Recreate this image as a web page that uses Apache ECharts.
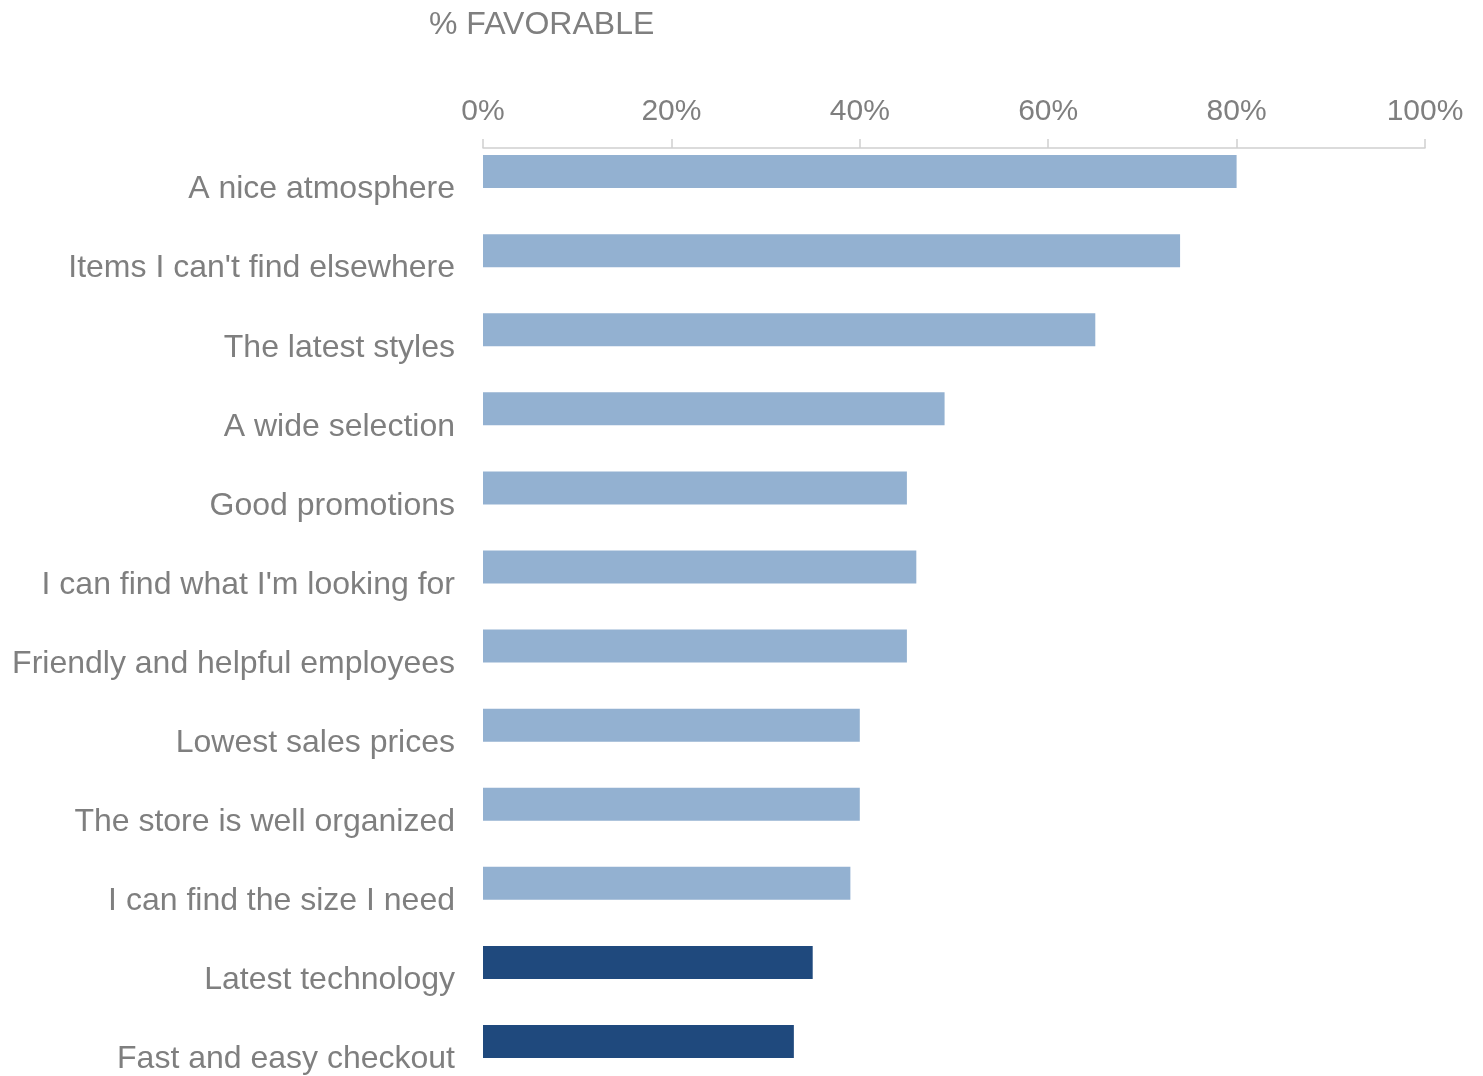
<!DOCTYPE html>
<html>
<head>
<meta charset="utf-8">
<script src="https://cdn.jsdelivr.net/npm/echarts@6/dist/echarts.min.js"></script>
<style>
  html, body { margin: 0; padding: 0; background: #ffffff; }
  #chart { width: 1483px; height: 1076px; }
</style>
</head>
<body>
<div id="chart"></div>
<script>
// Store attributes rated by shoppers, top to bottom
const categories = [
  "A nice atmosphere",
  "Items I can't find elsewhere",
  "The latest styles",
  "A wide selection",
  "Good promotions",
  "I can find what I'm looking for",
  "Friendly and helpful employees",
  "Lowest sales prices",
  "The store is well organized",
  "I can find the size I need",
  "Latest technology",
  "Fast and easy checkout"
];

// Share of respondents rating each attribute favorably (%)
const favorable = [80, 74, 65, 49, 45, 46, 45, 40, 40, 39, 35, 33];

// Attributes drawn in the darker accent colour
const highlighted = [false, false, false, false, false, false, false, false, false, false, true, true];

const axisTicks = [0, 20, 40, 60, 80, 100];

const LIGHT = '#93b1d1';
const DARK = '#1f497d';
const TEXT = '#7f7f7f';
const FONT = '"Liberation Sans", Arial, sans-serif';

const chart = echarts.init(document.getElementById('chart'));

chart.setOption({
  animation: false,
  backgroundColor: '#ffffff',
  title: {
    text: '% FAVORABLE',
    left: 424,
    top: 4,
    textStyle: { color: TEXT, fontSize: 32, fontWeight: 'normal', fontFamily: FONT }
  },
  grid: {
    left: 483,
    right: 58,
    top: 132,
    height: 949,
    containLabel: false,
    outerBoundsMode: 'none'
  },
  xAxis: {
    type: 'value',
    position: 'top',
    offset: -16,
    min: axisTicks[0],
    max: axisTicks[axisTicks.length - 1],
    interval: axisTicks[1] - axisTicks[0],
    axisLine: { show: true, lineStyle: { color: '#d0d0d0', width: 1.5 } },
    axisTick: { show: true, inside: false, length: 9, lineStyle: { color: '#d0d0d0', width: 1.5 } },
    splitLine: { show: false },
    axisLabel: {
      margin: 21,
      color: TEXT,
      fontSize: 30,
      fontFamily: FONT,
      formatter: '{value}%'
    }
  },
  yAxis: {
    type: 'category',
    inverse: true,
    data: categories,
    axisLine: { show: false },
    axisTick: { show: false },
    splitLine: { show: false },
    axisLabel: {
      margin: 28,
      color: TEXT,
      fontSize: 32,
      fontFamily: FONT,
      verticalAlign: 'top',
      lineHeight: 36
    }
  },
  series: [{
    type: 'bar',
    barWidth: 33,
    data: favorable.map((v, i) => ({
      value: v,
      itemStyle: { color: highlighted[i] ? DARK : LIGHT }
    }))
  }]
});
</script>
</body>
</html>
